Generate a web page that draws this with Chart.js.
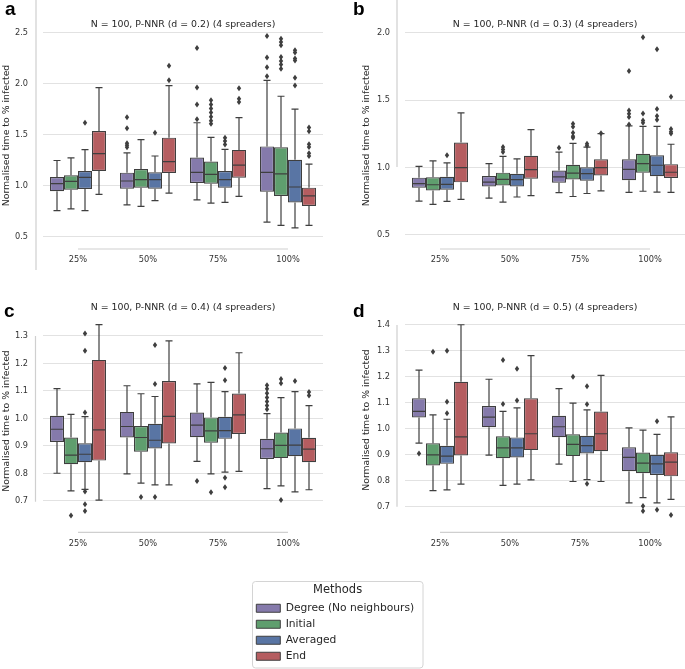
<!DOCTYPE html>
<html><head><meta charset="utf-8">
<script src="https://cdn.jsdelivr.net/npm/chart.js@4.4.0/dist/chart.umd.min.js"></script>
<style>
html,body{margin:0;padding:0;background:#fff;}
body{width:685px;height:669px;position:relative;overflow:hidden;}
canvas{position:absolute;}
</style></head><body>
<canvas id="pa" width="340" height="290" style="left:0px;top:0px"></canvas>
<canvas id="pb" width="345" height="290" style="left:340px;top:0px"></canvas>
<canvas id="pc" width="340" height="270" style="left:0px;top:300px"></canvas>
<canvas id="pd" width="345" height="270" style="left:340px;top:300px"></canvas>
<canvas id="leg" width="174" height="90" style="left:251px;top:579px"></canvas>
<script>
const categories = ['25%', '50%', '75%', '100%'];
const methods = ['Degree (No neighbours)', 'Initial', 'Averaged', 'End'];
const methodColors = ['#857aab', '#5f9e6e', '#5975a4', '#b55d60'];
const panelTitles = [
  'N = 100, P-NNR (d = 0.2) (4 spreaders)',
  'N = 100, P-NNR (d = 0.3) (4 spreaders)',
  'N = 100, P-NNR (d = 0.4) (4 spreaders)',
  'N = 100, P-NNR (d = 0.5) (4 spreaders)'
];
const yAxisTitle = 'Normalised time to % infected';
const aTicks = [0.5, 1.0, 1.5, 2.0, 2.5];
const bTicks = [0.5, 1.0, 1.5, 2.0];
const cTicks = [0.7, 0.8, 0.9, 1.0, 1.1, 1.2, 1.3];
const dTicks = [0.7, 0.8, 0.9, 1.0, 1.1, 1.2, 1.3, 1.4];

// each entry per category: [lower whisker, Q1, median, Q3, upper whisker]
const aDegree   = [[0.758,0.948,1.023,1.088,1.25],[0.814,0.974,1.049,1.131,1.324],[0.863,1.029,1.133,1.28,1.62],[0.645,0.943,1.133,1.388,2.036]];
const aInitial  = [[0.775,0.964,1.046,1.105,1.275],[0.801,0.984,1.062,1.167,1.454],[0.833,1.023,1.114,1.239,1.477],[0.614,0.903,1.118,1.38,1.88]];
const aAveraged = [[0.758,0.971,1.085,1.147,1.356],[0.856,0.974,1.062,1.134,1.294],[0.84,0.984,1.062,1.147,1.359],[0.59,0.838,0.99,1.258,1.753]];
const aEnd      = [[0.918,1.147,1.317,1.539,1.964],[0.931,1.127,1.239,1.474,1.984],[0.899,1.082,1.204,1.354,1.67],[0.614,0.804,0.904,0.984,1.215]];
const aDegreeOut   = [[],[1.675,1.565,1.42,1.40,1.38],[2.353,1.965,1.798,1.655],[2.47,2.26,2.163,2.075]];
const aInitialOut  = [[],[],[1.84,1.80,1.76,1.72,1.68,1.64,1.61],[2.444,2.412,2.379,2.265,2.225,2.19,2.15]];
const aAveragedOut = [[1.621],[1.523],[1.474,1.441,1.408],[2.33,2.31,2.25,2.23,2.062,1.985]];
const aEndOut      = [[],[2.18,2.036],[1.958,1.856,1.824],[1.574,1.536,1.41,1.382,1.322,1.294]];

const bDegree   = [[0.752,0.851,0.881,0.926,1.01],[0.774,0.861,0.893,0.938,1.03],[0.814,0.888,0.931,0.979,1.115],[0.817,0.907,0.988,1.062,1.31]];
const bInitial  = [[0.727,0.831,0.873,0.928,1.05],[0.744,0.868,0.913,0.963,1.084],[0.786,0.913,0.96,1.022,1.18],[0.825,0.962,1.03,1.103,1.306]];
const bAveraged = [[0.749,0.836,0.876,0.933,1.035],[0.782,0.861,0.911,0.955,1.065],[0.808,0.903,0.956,1.003,1.152],[0.819,0.937,1.018,1.092,1.306]];
const bEnd      = [[0.764,0.891,1.0,1.186,1.407],[0.792,0.918,0.985,1.089,1.283],[0.828,0.942,1.0,1.062,1.253],[0.816,0.923,0.966,1.026,1.174]];
const bDegreeOut   = [[],[],[1.148],[1.717,1.425,1.40,1.377,1.32]];
const bInitialOut  = [[],[1.154,1.135,1.117],[1.326,1.303,1.26,1.233,1.223],[1.968,1.402,1.35,1.333]];
const bAveragedOut = [[1.092],[],[1.178,1.163],[1.88,1.436,1.383,1.355]];
const bEndOut      = [[],[],[1.256],[1.527,1.287,1.266,1.253]];

const cDegree   = [[0.801,0.915,0.961,1.01,1.109],[0.799,0.931,0.971,1.024,1.119],[0.844,0.932,0.976,1.022,1.126],[0.745,0.853,0.89,0.926,1.018]];
const cInitial  = [[0.737,0.834,0.867,0.931,1.015],[0.765,0.879,0.931,0.973,1.09],[0.799,0.912,0.955,1.004,1.131],[0.755,0.856,0.902,0.949,1.076]];
const cAveraged = [[0.742,0.841,0.87,0.91,1.007],[0.759,0.891,0.921,0.981,1.08],[0.805,0.926,0.956,1.006,1.098],[0.733,0.863,0.903,0.964,1.098]];
const cEnd      = [[0.703,0.847,0.959,1.213,1.341],[0.759,0.909,1.008,1.136,1.282],[0.808,0.944,1.013,1.091,1.239],[0.741,0.841,0.889,0.93,1.047]];
const cDegreeOut   = [[],[],[0.773],[1.121,1.108,1.092,1.076,1.062,1.047,1.034]];
const cInitialOut  = [[0.647],[0.715],[0.732],[1.144,1.128,0.704]];
const cAveragedOut = [[1.309,1.246,1.022,0.735,0.688,0.664],[1.267,1.125,0.715],[1.184,1.139,0.785,0.75],[1.136]];
const cEndOut      = [[],[],[],[1.096,1.084]];

const dDegree   = [[0.945,1.044,1.067,1.118,1.226],[0.899,1.006,1.045,1.088,1.191],[0.864,0.968,1.008,1.05,1.155],[0.715,0.837,0.89,0.929,1.004]];
const dInitial  = [[0.762,0.859,0.9,0.944,1.054],[0.782,0.887,0.927,0.971,1.067],[0.797,0.895,0.94,0.979,1.099],[0.735,0.829,0.868,0.909,0.995]];
const dAveraged = [[0.765,0.865,0.895,0.935,1.037],[0.787,0.89,0.927,0.967,1.081],[0.804,0.905,0.935,0.973,1.073],[0.715,0.822,0.865,0.9,0.979]];
const dEnd      = [[0.787,0.897,0.969,1.181,1.401],[0.803,0.918,0.981,1.118,1.282],[0.797,0.914,0.981,1.067,1.206],[0.728,0.817,0.872,0.91,1.046]];
const dDegreeOut   = [[0.905],[],[],[]];
const dInitialOut  = [[1.297],[1.265,1.096],[1.201],[0.703,0.683]];
const dAveragedOut = [[1.301,1.104,1.06],[1.231,1.109],[1.164,1.095,0.788],[1.029,0.688]];
const dEndOut      = [[],[],[],[0.668]];

const EDGE = '#3f3f3f';
const GRID = '#e2e2e2';
const SPINE = '#cfcfcf';
const TEXT = '#333333';
Chart.defaults.font.family = "'DejaVu Sans', sans-serif";
Chart.defaults.color = TEXT;

const boxPlugin = {
  id: 'boxWhiskers',
  afterDatasetsDraw(chart) {
    const ctx = chart.ctx, ys = chart.scales.y;
    ctx.save();
    ctx.strokeStyle = EDGE; ctx.fillStyle = EDGE; ctx.lineWidth = 1.2;
    chart.data.datasets.forEach((ds, i) => {
      const meta = chart.getDatasetMeta(i);
      meta.data.forEach((bar, j) => {
        const s = ds.stats[j];
        const x = bar.x, w = bar.width;
        const pLo = ys.getPixelForValue(s[0]), pQ1 = ys.getPixelForValue(s[1]),
              pMed = ys.getPixelForValue(s[2]), pQ3 = ys.getPixelForValue(s[3]),
              pHi = ys.getPixelForValue(s[4]);
        ctx.beginPath();
        ctx.moveTo(x, pQ3); ctx.lineTo(x, pHi);
        ctx.moveTo(x, pQ1); ctx.lineTo(x, pLo);
        ctx.moveTo(x - w / 4, pHi); ctx.lineTo(x + w / 4, pHi);
        ctx.moveTo(x - w / 4, pLo); ctx.lineTo(x + w / 4, pLo);
        ctx.moveTo(x - w / 2 + 1, pMed); ctx.lineTo(x + w / 2 - 1, pMed);
        ctx.stroke();
        ds.outliers[j].forEach(v => {
          const py = ys.getPixelForValue(v);
          ctx.beginPath();
          ctx.moveTo(x, py - 3); ctx.lineTo(x + 2.2, py); ctx.lineTo(x, py + 3); ctx.lineTo(x - 2.2, py);
          ctx.closePath(); ctx.fill();
        });
      });
    });
    ctx.restore();
  }
};

const decoPlugin = {
  id: 'deco',
  afterDraw(chart, args, opts) {
    const ctx = chart.ctx, xs = chart.scales.x;
    ctx.save();
    ctx.strokeStyle = SPINE; ctx.lineWidth = 1.2;
    ctx.beginPath();
    ctx.moveTo(opts.leftX, opts.leftY0); ctx.lineTo(opts.leftX, opts.leftY1);
    ctx.moveTo(xs.getPixelForValue(0), opts.bottomY); ctx.lineTo(xs.getPixelForValue(categories.length - 1), opts.bottomY);
    ctx.stroke();
    ctx.fillStyle = '#000';
    ctx.font = "bold 19px 'Liberation Sans', Arial, sans-serif";
    ctx.textBaseline = 'alphabetic'; ctx.textAlign = 'left';
    ctx.fillText(opts.letter, opts.letterX, opts.letterY);
    ctx.restore();
  }
};

function makePanel(id, title, stats, outs, ticks, p) {
  const datasets = stats.map((s, i) => ({
    label: methods[i],
    data: s.map(v => [v[1], v[3]]),
    backgroundColor: methodColors[i],
    borderColor: EDGE,
    borderWidth: 1.2,
    borderSkipped: false,
    categoryPercentage: 0.8,
    barPercentage: 1.0,
    stats: s,
    outliers: outs[i]
  }));
  return new Chart(document.getElementById(id), {
    type: 'bar',
    data: { labels: categories, datasets },
    plugins: [boxPlugin, decoPlugin],
    options: {
      responsive: false, animation: false, devicePixelRatio: 1,
      layout: { padding: { left: 0, right: p.padRight, top: 0, bottom: 0 }, autoPadding: false },
      plugins: {
        legend: { display: false },
        tooltip: { enabled: false },
        title: {
          display: true, text: title, fullSize: false, color: '#262626',
          font: { size: 9.4, lineHeight: 1, weight: 'normal' },
          padding: { top: p.titleTop, bottom: p.titleBottom }
        },
        deco: p.deco
      },
      scales: {
        x: {
          type: 'category', offset: true,
          grid: { display: false, drawTicks: false },
          border: { display: false },
          ticks: { padding: p.xPad, font: { size: 8.25, lineHeight: 1 }, color: TEXT, maxRotation: 0 },
          afterFit(s) { s.height = p.xHeight; s.paddingLeft = 0; s.paddingRight = 0; }
        },
        y: {
          type: 'linear', min: p.min, max: p.max,
          grid: { color: GRID, lineWidth: 1.1, drawTicks: false },
          border: { display: false },
          ticks: { padding: 15, font: { size: 8.2, lineHeight: 1 }, color: TEXT, callback: v => Number(v).toFixed(1) },
          afterBuildTicks(s) { s.ticks = ticks.map(v => ({ value: v })); },
          title: { display: true, text: yAxisTitle, color: '#262626', font: { size: 9.3, lineHeight: 1 }, padding: { top: p.yTitlePad, bottom: 0 } },
          afterFit(s) { s.width = p.yWidth; s.paddingTop = 0; s.paddingBottom = 0; }
        }
      }
    }
  });
}

makePanel('pa', panelTitles[0], [aDegree, aInitial, aAveraged, aEnd], [aDegreeOut, aInitialOut, aAveragedOut, aEndOut], aTicks,
  { padRight: 17, yWidth: 43, titleTop: 19.8, titleBottom: 1.8, xHeight: 50, xPad: 15.9, yTitlePad: 1.85, min: 0.4706, max: 2.5196,
    deco: { leftX: 36, leftY0: 0, leftY1: 270, bottomY: 249, letter: 'a', letterX: 5, letterY: 15 } });
makePanel('pb', panelTitles[1], [bDegree, bInitial, bAveraged, bEnd], [bDegreeOut, bInitialOut, bAveragedOut, bEndOut], bTicks,
  { padRight: 0, yWidth: 65, titleTop: 19.8, titleBottom: 1.8, xHeight: 50, xPad: 15.9, yTitlePad: 22, min: 0.46287, max: 2.01485,
    deco: { leftX: 57, leftY0: 0, leftY1: 167, bottomY: 249, letter: 'b', letterX: 13, letterY: 15 } });
makePanel('pc', panelTitles[2], [cDegree, cInitial, cAveraged, cEnd], [cDegreeOut, cInitialOut, cAveragedOut, cEndOut], cTicks,
  { padRight: 17, yWidth: 43, titleTop: 2.8, titleBottom: 7.8, xHeight: 48, xPad: 17.4, yTitlePad: 1.85, min: 0.62364, max: 1.35818,
    deco: { leftX: 35.5, leftY0: 36, leftY1: 201.7, bottomY: 232.3, letter: 'c', letterX: 4, letterY: 17 } });
makePanel('pd', panelTitles[3], [dDegree, dInitial, dAveraged, dEnd], [dDegreeOut, dInitialOut, dAveragedOut, dEndOut], dTicks,
  { padRight: 0, yWidth: 65, titleTop: 2.8, titleBottom: 5.8, xHeight: 48, xPad: 17.4, yTitlePad: 22, min: 0.64106, max: 1.42697,
    deco: { leftX: 57, leftY0: 25, leftY1: 206.7, bottomY: 232.3, letter: 'd', letterX: 13, letterY: 17 } });

const framePlugin = {
  id: 'frame',
  beforeDraw(chart) {
    const ctx = chart.ctx;
    ctx.save();
    ctx.fillStyle = '#fff'; ctx.strokeStyle = '#d4d4d4'; ctx.lineWidth = 1;
    ctx.beginPath();
    ctx.roundRect(1.5, 2.5, 170.5, 86.5, 3);
    ctx.fill(); ctx.stroke();
    ctx.restore();
  }
};

new Chart(document.getElementById('leg'), {
  type: 'bar',
  data: { labels: [], datasets: methods.map((m, i) => ({ label: m, data: [], backgroundColor: methodColors[i], borderColor: EDGE, borderWidth: 1 })) },
  plugins: [framePlugin],
  options: {
    responsive: false, animation: false, devicePixelRatio: 1,
    layout: { padding: 0, autoPadding: false },
    scales: { x: { display: false }, y: { display: false } },
    plugins: {
      tooltip: { enabled: false },
      legend: {
        display: true, position: 'chartArea', align: 'start',
        title: { display: true, text: 'Methods', color: '#262626', position: 'center', font: { size: 11.5, lineHeight: 1.2 }, padding: { top: 4.8, bottom: 0 } },
        labels: { boxWidth: 24, boxHeight: 8, padding: 5.3, color: '#262626', font: { size: 10.7, lineHeight: 1.2 } }
      }
    }
  }
});
</script>
</body></html>
